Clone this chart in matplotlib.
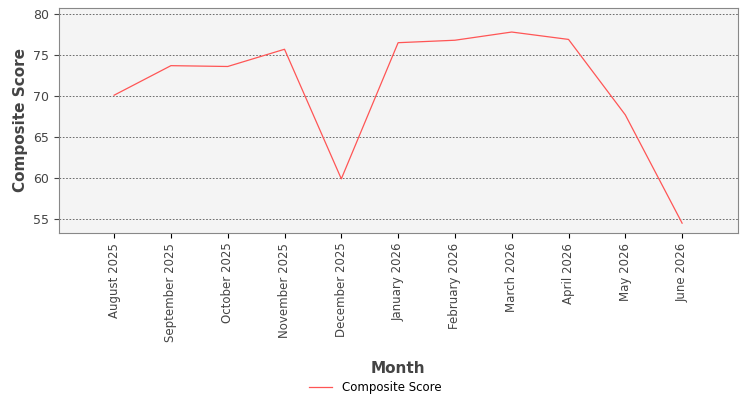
import matplotlib
matplotlib.use("Agg")
import matplotlib.pyplot as plt

months = ["August 2025", "September 2025", "October 2025", "November 2025", "December 2025",
          "January 2026", "February 2026", "March 2026", "April 2026", "May 2026", "June 2026"]
scores = [70.1, 73.7, 73.6, 75.7, 59.9, 76.5, 76.8, 77.8, 76.9, 67.7, 54.5]

fig = plt.figure(figsize=(7.5, 4.0), dpi=100)
ax = fig.add_axes([0.0787, 0.4175, 0.905, 0.5625])
ax.set_facecolor("#f4f4f4")
x = list(range(len(months)))
ax.plot(x, scores, color="#ff5555", lw=0.9, label="Composite Score")
ax.set_xlim(-0.97, 10.98)
ax.set_ylim(53.3, 80.73)
ax.set_yticks([55, 60, 65, 70, 75, 80])
ax.set_xticks(x)
ax.set_xticklabels(months, rotation=90, fontsize=8.5, color="#444444")
ax.tick_params(axis="y", labelsize=9, colors="#444444")
ax.grid(axis="y", color="#555555", ls=(0, (2, 2)), lw=0.6)
for s in ax.spines.values():
    s.set_color("#888888")
ax.set_xlabel("Month", fontsize=11, fontweight="bold", color="#444444", labelpad=14)
ax.set_ylabel("Composite Score", fontsize=11, fontweight="bold", color="#444444")
fig.legend(loc="lower center", bbox_to_anchor=(0.5, -0.012), frameon=False, fontsize=8.5)
fig.savefig("out.png", dpi=100)
